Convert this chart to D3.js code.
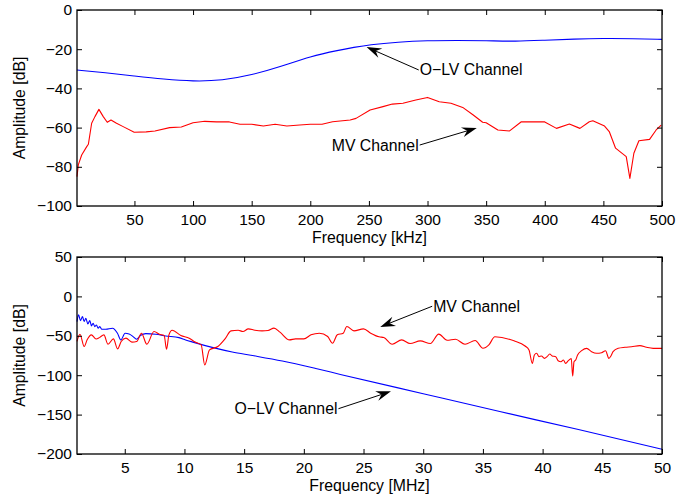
<!DOCTYPE html>
<html>
<head>
<meta charset="utf-8">
<script src="https://cdn.jsdelivr.net/npm/d3@7"></script>
<style>
  body { margin: 0; background: #fff; }
  svg { display: block; font-family: "Liberation Sans", Arial, Helvetica, sans-serif; }
</style>
</head>
<body>
<div id="chart"></div>
<script>
// top panel: 0 - 500 kHz
const khzBlueF = [1, 25, 50, 75, 100, 125, 150, 175, 200, 225, 237, 250, 275, 300, 325, 350, 375, 400, 425, 450, 475, 500];
const khzBlueA = [-30.6, -32, -33.7, -35.3, -36.4, -36, -33.2, -28.9, -23.6, -20.4, -19.1, -17.7, -16.3, -15.6, -15.5, -15.6, -16.1, -15.4, -14.8, -14.5, -14.6, -15];

const khzRedF = [1, 2.1, 5, 9.3, 10.7, 13.5, 16.3, 19.7, 23.4, 26.8, 30, 34.7, 40.4, 49.8, 60, 67.5, 80, 90, 100, 110, 120, 131, 140, 150, 160, 170, 180, 191, 200, 210, 219, 234,
  239, 251, 262, 270, 279, 290, 300, 310, 320, 330, 339, 347, 350, 360, 370, 380, 390, 400, 410, 421, 430, 438, 441, 451, 455, 460.4, 469.5, 472.6, 476, 480.3, 489.4, 495, 499.3];
const khzRedA = [-85, -79, -74, -69.7, -68.5, -57.8, -54.4, -50.7, -54.4, -57.3, -56.1, -57.8, -59.5, -62.4, -62.2, -61.7, -60, -59.7, -57.5, -56.8, -57.1, -57.1, -58.3, -58.3, -59.2, -58.3, -59.2, -58.7, -58.3, -58.3, -57, -56.1,
  -55.3, -51, -49.3, -48, -47.6, -45.9, -44.6, -46.8, -47.6, -49.7, -53.6, -57.3, -57.5, -61.2, -61.7, -57, -57.1, -57.1, -60.4, -58.2, -60.4, -57, -56.5, -59.2, -62, -70.5, -74.8, -85.9, -73.1, -66.7, -66, -61.2, -58.7];

// bottom panel: 0 - 50 MHz
const mhzBlueF = [1, 1.13, 1.29, 1.46, 1.6, 1.74, 1.91, 2.07, 2.21, 2.35, 2.49, 2.63, 2.77, 2.91, 3.08, 3.41, 3.97, 4.39, 4.67, 5.03, 5.36, 5.7, 5.98, 6.34, 6.76, 7.6, 8.43, 9.54, 10.1, 10.7, 12.4, 14, 15.7, 18.2, 21, 23.06, 30, 36.5, 43, 50];
const mhzBlueA = [-32, -23.4, -30.7, -25.6, -31.9, -27.7, -34.9, -30.7, -37.4, -34.05, -38.3, -36.2, -40.4, -38.3, -41.7, -41.7, -40.4, -46.8, -55.3, -46.8, -47.6, -51, -54.4, -49.3, -47.2, -48, -50.2, -52.3, -55.3, -58, -65, -70.5, -75, -82, -91.5, -99, -123.5, -146.4, -169, -194];

const mhzRedF = [1, 1.25, 1.6, 1.85, 2.2, 2.6, 2.9, 3.25, 3.6, 4.05, 4.4, 4.7, 5.1, 5.6, 6.0, 6.4, 6.85, 7.45, 7.9, 8.3, 8.5, 8.7, 8.97, 9.7, 10.4, 10.9, 11.4, 11.7, 12.1, 12.8, 13.4, 13.9, 14.5, 14.9, 15.35, 15.9, 16.5, 17, 17.5, 18, 18.8, 19.3, 20, 20.6, 21.3, 22, 22.4, 22.8, 23.3,
  23.6, 24.2, 25, 25.6, 26.3, 26.7, 27.4, 28.2, 28.9, 29.75, 30.6, 31.3, 32, 32.7, 33.5, 34.35, 35, 35.5, 36, 37.6, 38.53, 38.86, 39.14, 39.31, 39.5, 39.7, 39.9, 40.15, 40.37, 40.6, 40.8, 41.1, 41.3, 41.54, 41.74, 41.93, 42.15, 42.4, 42.52, 42.63, 42.77, 42.93, 43.27, 43.69, 44.1, 44.52, 44.94, 45.27, 45.55, 45.72, 45.9, 46.33, 46.9, 47.45, 48.15, 48.7, 49.26, 50];
const mhzRedA = [-57, -48, -63.6, -55, -48.8, -54, -52, -48.8, -60.7, -53.9, -66.6, -57.3, -53, -58, -57.3, -46.7, -60.7, -44.6, -48, -49.6, -67, -48.8, -42.9, -49.6, -53, -58, -61.5, -87, -67.9, -63.6, -53.9, -43.7, -42.9, -44.6, -41.2, -42.9, -43.7, -43.3, -40.3, -45.4, -55.2, -53.9, -53.9, -48.8, -46.7, -50.9, -59.4, -48.8, -46.7,
  -38.2, -43.7, -41.2, -46.7, -51.3, -52.2, -60.7, -55.2, -59.8, -56.4, -59.8, -47.9, -55.6, -54.3, -60.7, -56, -65.8, -61.5, -51.3, -56.4, -62.9, -68, -85, -74.4, -72.2, -76.5, -75.6, -78.6, -76.5, -73.1, -75.6, -76.5, -81.6, -82.9, -80.7, -85, -81.6, -79, -101.1, -82.9, -80.7, -74.4, -68.9, -65.9, -70.1, -72.2, -71.4, -68.9, -78.6, -75.6, -70.1, -65.9, -64.6, -63.8, -62.5, -64.6, -65.9, -65.9];

const topXTicks = [50, 100, 150, 200, 250, 300, 350, 400, 450, 500];
const topYTicks = [0, -20, -40, -60, -80, -100];
const botXTicks = [5, 10, 15, 20, 25, 30, 35, 40, 45, 50];
const botYTicks = [50, 0, -50, -100, -150, -200];

const width = 694, height = 499;
const left = 77, right = 662;
const tickFont = 15.5, textFont = 15.8;

const svg = d3.select("#chart").append("svg")
    .attr("width", width)
    .attr("height", height);

const fmt = d => d < 0 ? "\u2212" + Math.abs(d) : String(d);

function panel(top, bottom, xDomain, yDomain, xTicks, yTicks, xTitle, series, notes) {
    const x = d3.scaleLinear().domain(xDomain).range([left, right]);
    const y = d3.scaleLinear().domain(yDomain).range([bottom, top]);
    const g = svg.append("g");

    series.forEach(s => {
        const line = d3.line().x(d => x(d[0])).y(d => y(d[1])).curve(s.curve);
        g.append("path")
            .datum(d3.zip(s.f, s.a))
            .attr("d", line)
            .attr("fill", "none")
            .attr("stroke", s.color)
            .attr("stroke-width", 1.1)
            .attr("stroke-linejoin", "round");
    });

    const ax = (gen, tx, ty, labels) => {
        const a = g.append("g").attr("transform", `translate(${tx},${ty})`)
            .call(gen.tickSizeInner(-5).tickSizeOuter(0).tickPadding(labels ? 8 : 0)
                .tickFormat(labels ? fmt : ""));
        a.select(".domain").remove();
        a.selectAll("line").attr("stroke", "#000").attr("stroke-width", 1);
        a.selectAll("text").attr("font-size", tickFont).attr("fill", "#000")
            .attr("font-family", "Liberation Sans, Arial, sans-serif");
        return a;
    };
    ax(d3.axisBottom(x).tickValues(xTicks), 0, bottom, true);
    ax(d3.axisTop(x).tickValues(xTicks), 0, top, false);
    ax(d3.axisLeft(y).tickValues(yTicks).tickPadding(5), left, 0, true)
        .call(a => a.selectAll("text").attr("x", -5));
    ax(d3.axisRight(y).tickValues(yTicks), right, 0, false);

    g.append("rect")
        .attr("x", left).attr("y", top)
        .attr("width", right - left).attr("height", bottom - top)
        .attr("fill", "none").attr("stroke", "#000").attr("stroke-width", 1.3);

    g.append("text")
        .attr("x", (left + right) / 2).attr("y", bottom + 37)
        .attr("text-anchor", "middle").attr("font-size", textFont)
        .text(xTitle);
    g.append("text")
        .attr("transform", `translate(25,${(top + bottom) / 2}) rotate(-90)`)
        .attr("text-anchor", "middle").attr("font-size", textFont)
        .text("Amplitude [dB]");

    // annotation arrows
    notes.forEach(n => {
        const hx = x(n.head[0]), hy = y(n.head[1]);
        const tx = x(n.tail[0]), ty = y(n.tail[1]);
        const ang = Math.atan2(hy - ty, hx - tx);
        const L = 15, W = 5, N = 10;
        const ux = Math.cos(ang), uy = Math.sin(ang);
        const px = -uy, py = ux;
        g.append("line")
            .attr("x1", tx).attr("y1", ty)
            .attr("x2", hx - ux * N).attr("y2", hy - uy * N)
            .attr("stroke", "#000").attr("stroke-width", 1);
        g.append("path")
            .attr("d", `M${hx},${hy}L${hx - ux * L + px * W},${hy - uy * L + py * W}L${hx - ux * N},${hy - uy * N}L${hx - ux * L - px * W},${hy - uy * L - py * W}Z`)
            .attr("fill", "#000");
        g.append("text")
            .attr("x", n.anchor === "end" ? tx - 1 : tx + 1)
            .attr("y", ty + 5.5)
            .attr("text-anchor", n.anchor)
            .attr("font-size", textFont)
            .text(n.label);
    });
}

panel(10, 206, [1, 500], [-100, 0], topXTicks, topYTicks, "Frequency [kHz]",
    [{f: khzBlueF, a: khzBlueA, color: "#0000ff", curve: d3.curveBasis},
     {f: khzRedF, a: khzRedA, color: "#ff0000", curve: d3.curveLinear}],
    [{label: "O\u2212LV Channel", head: [248, -18.9], tail: [292.5, -30.6], anchor: "start"},
     {label: "MV Channel", head: [342, -60.2], tail: [293.3, -68.9], anchor: "end"}]);

panel(257, 454, [1, 50], [-200, 50], botXTicks, botYTicks, "Frequency [MHz]",
    [{f: mhzBlueF, a: mhzBlueA, color: "#0000ff", curve: d3.curveMonotoneX},
     {f: mhzRedF, a: mhzRedA, color: "#ff0000", curve: d3.curveMonotoneX}],
    [{label: "MV Channel", head: [26.4, -38.7], tail: [30.75, -12.5], anchor: "start"},
     {label: "O\u2212LV Channel", head: [27.3, -120.5], tail: [22.9, -142.5], anchor: "end"}]);
</script>
</body>
</html>
